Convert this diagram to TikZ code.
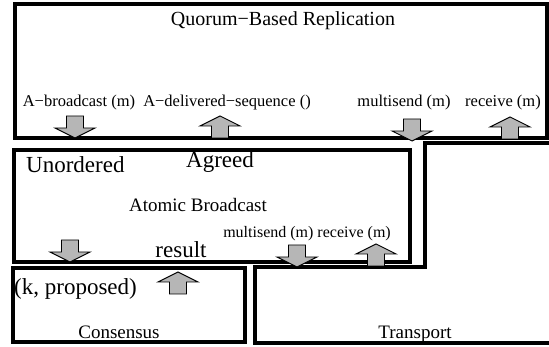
\documentclass[tikz,border=0pt]{standalone}
\usepackage{fontspec}
\setmainfont{Liberation Serif}
\definecolor{arrowgray}{RGB}{182,182,182}
\tikzset{
  layerbox/.style={draw=black, line width=3.5pt},
  blockarr/.style={draw=black, fill=arrowgray, line width=0.9pt, line join=miter},
  lbl/.style={inner sep=0pt, font=\fontsize{16.5}{18}\selectfont},
  biglbl/.style={inner sep=0pt, font=\fontsize{23}{25}\selectfont},
  midlbl/.style={inner sep=0pt, font=\fontsize{19}{21}\selectfont},
  smalllbl/.style={inner sep=0pt, font=\fontsize{16}{18}\selectfont},
  pics/downarr/.style={code={
    \path[blockarr] (0,0) -- (20,-10) -- (8.5,-10) -- (8.5,-22) -- (-8.5,-22) -- (-8.5,-10) -- (-20,-10) -- cycle;}},
  pics/uparr/.style={code={
    \path[blockarr] (0,0) -- (20,10) -- (8.5,10) -- (8.5,22) -- (-8.5,22) -- (-8.5,10) -- (-20,10) -- cycle;}},
}
\begin{document}
\begin{tikzpicture}[x=1pt,y=-1pt]
\useasboundingbox (0,0) rectangle (549,347);
% boxes
\draw[layerbox] (15,4) rectangle (547,138);
\draw[layerbox] (14,150) rectangle (410,262);
\draw[layerbox] (13,268) rectangle (245,342);
\draw[layerbox, line width=4pt] (553,143) -- (425,143) -- (425,267) -- (255,267) -- (255,343) -- (553,343);
% texts
\node[lbl, font=\fontsize{20}{22}\selectfont] (qbr) at (283,21) {Quorum−Based Replication};
\node[lbl] (abc) at (79,103) {A−broadcast (m)};
\node[lbl] (ads) at (227,103) {A−delivered−sequence ()};
\node[lbl] (ms1) at (404,103) {multisend (m)};
\node[lbl] (rc1) at (503,103) {receive (m)};
\node[biglbl, anchor=west] (uno) at (26,165) {Unordered};
\node[biglbl] (agr) at (220,162) {Agreed};
\node[midlbl] (atb) at (198,205) {Atomic Broadcast};
\node[smalllbl] (msrc) at (307,234) {multisend (m) receive (m)};
\node[biglbl] (res) at (181,250) {result};
\node[biglbl, anchor=west] (kp) at (14,289) {(k, proposed)};
\node[midlbl] (cons) at (119,332) {Consensus};
\node[midlbl] (trans) at (415,334) {Transport};
% arrows
\pic at (75,138) {downarr};
\pic at (220,116) {uparr};
\pic at (412,141) {downarr};
\pic at (510,117) {uparr};
\pic at (70,262) {downarr};
\pic at (297,267) {downarr};
\pic at (376,244) {uparr};
\pic at (178,272) {uparr};
\end{tikzpicture}
\end{document}
